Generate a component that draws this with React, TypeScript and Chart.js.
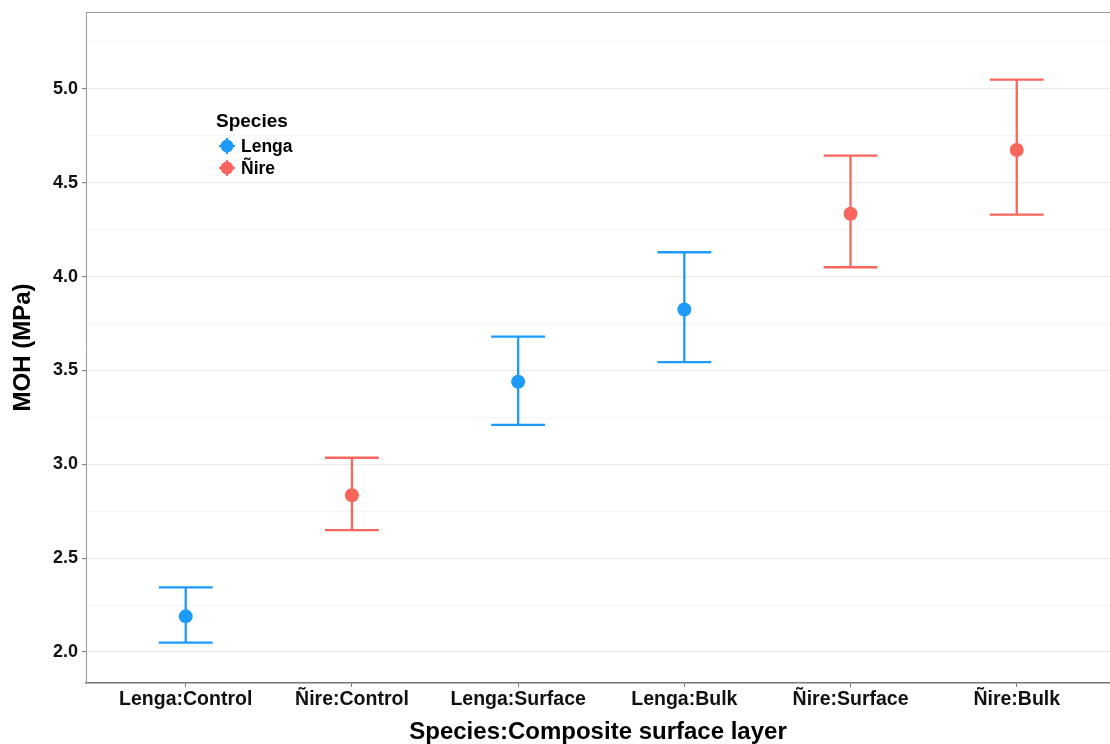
import React, { useEffect, useRef } from "react";
import { Chart, registerables } from "chart.js";

Chart.register(...registerables);

const categories = ["Lenga:Control", "Ñire:Control", "Lenga:Surface", "Lenga:Bulk", "Ñire:Surface", "Ñire:Bulk"];
const groupOf = ["Lenga", "Ñire", "Lenga", "Lenga", "Ñire", "Ñire"];
const means = [2.19, 2.835, 3.44, 3.825, 4.335, 4.675];
const lowers = [2.05, 2.65, 3.21, 3.545, 4.05, 4.33];
const uppers = [2.345, 3.035, 3.68, 4.13, 4.645, 5.05];
const speciesNames = ["Lenga", "Ñire"];
const speciesColors = ["#1E9BF8", "#F8665E"];
const yTickValues = [2.0, 2.25, 2.5, 2.75, 3.0, 3.25, 3.5, 3.75, 4.0, 4.25, 4.5, 4.75, 5.0, 5.25];

const FONT = "'Liberation Sans', Arial, Helvetica, sans-serif";

const isMajor = (v: number) => Math.abs(v * 2 - Math.round(v * 2)) < 1e-6;

const zeroPadding = (s: any) => {
  s.paddingLeft = 0;
  s.paddingRight = 0;
  s.paddingTop = 0;
  s.paddingBottom = 0;
};

const errorBarPlugin = {
  id: "errorBars",
  beforeDatasetsDraw(chart: any) {
    const { ctx, scales } = chart;
    const xs = scales.x;
    const ys = scales.y;
    ctx.save();
    chart.data.datasets.forEach((ds: any) => {
      ds.data.forEach((p: any) => {
        const px = xs.getPixelForValue(p.x);
        const pLo = ys.getPixelForValue(p.lo);
        const pHi = ys.getPixelForValue(p.hi);
        const capHalf = xs.getPixelForValue(p.x + 0.162) - px;
        ctx.strokeStyle = ds.backgroundColor;
        ctx.lineWidth = 2.3;
        ctx.beginPath();
        ctx.moveTo(px, pLo);
        ctx.lineTo(px, pHi);
        ctx.moveTo(px - capHalf, pHi);
        ctx.lineTo(px + capHalf, pHi);
        ctx.moveTo(px - capHalf, pLo);
        ctx.lineTo(px + capHalf, pLo);
        ctx.stroke();
      });
    });
    ctx.restore();
  },
};

const frameAndLegendPlugin = {
  id: "frameLegend",
  afterDraw(chart: any) {
    const { ctx, chartArea } = chart;
    ctx.save();
    ctx.strokeStyle = "#9a9a9a";
    ctx.lineWidth = 1;
    ctx.beginPath();
    ctx.moveTo(chartArea.left, chartArea.top + 0.5);
    ctx.lineTo(chartArea.right, chartArea.top + 0.5);
    ctx.stroke();

    // legend
    const lx = chartArea.left + 130;
    const ly = chartArea.top + 110;
    ctx.fillStyle = "#000";
    ctx.textBaseline = "middle";
    ctx.textAlign = "left";
    ctx.font = `bold 19px ${FONT}`;
    ctx.fillText("Species", lx, ly);
    speciesNames.forEach((name, i) => {
      const cy = ly + 24 + i * 22;
      const cx = lx + 11;
      ctx.strokeStyle = speciesColors[i];
      ctx.fillStyle = speciesColors[i];
      ctx.lineWidth = 2;
      ctx.beginPath();
      ctx.moveTo(cx - 8, cy);
      ctx.lineTo(cx + 8, cy);
      ctx.moveTo(cx, cy - 8);
      ctx.lineTo(cx, cy + 8);
      ctx.stroke();
      ctx.beginPath();
      ctx.arc(cx, cy, 6.5, 0, Math.PI * 2);
      ctx.fill();
      ctx.fillStyle = "#000";
      ctx.font = `bold 17.5px ${FONT}`;
      ctx.fillText(name, lx + 25, cy + 1);
    });
    ctx.restore();
  },
};

export default function App() {
  const ref = useRef<HTMLCanvasElement | null>(null);

  useEffect(() => {
    document.body.style.margin = "0";
    document.body.style.overflow = "hidden";
    const canvas = ref.current;
    if (!canvas) return;
    const datasets = speciesNames.map((sp, si) => ({
      label: sp,
      data: categories
        .map((c, i) => ({ x: i + 1, y: means[i], lo: lowers[i], hi: uppers[i], g: groupOf[i] }))
        .filter((d) => d.g === sp),
      backgroundColor: speciesColors[si],
      borderColor: speciesColors[si],
      borderWidth: 0,
      pointRadius: 7,
      pointHoverRadius: 7,
      showLine: false,
      clip: false,
    }));

    const chart = new Chart(canvas, {
      type: "scatter",
      data: { datasets },
      plugins: [errorBarPlugin, frameAndLegendPlugin],
      options: {
        responsive: false,
        animation: false,
        events: [],
        layout: { autoPadding: false, padding: { top: 12, left: 0, right: 0, bottom: 0 } },
        plugins: { legend: { display: false }, tooltip: { enabled: false } },
        scales: {
          x: {
            type: "linear",
            min: 0.4,
            max: 6.561,
            afterFit: (s: any) => {
              s.height = 61;
              zeroPadding(s);
            },
            afterBuildTicks: (s: any) => {
              s.ticks = categories.map((_, i) => ({ value: i + 1 }));
            },
            ticks: {
              callback: (v: any) => categories[Math.round(Number(v)) - 1] ?? "",
              font: { family: FONT, size: 19.5, weight: "bold" },
              color: "#111",
              padding: 1,
              maxRotation: 0,
              autoSkip: false,
            },
            grid: {
              drawOnChartArea: false,
              drawTicks: true,
              tickLength: 4,
              tickColor: "#777",
              tickWidth: 1,
            },
            border: { display: true, color: "#777", width: 1.5 },
            title: {
              display: true,
              text: "Species:Composite surface layer",
              font: { family: FONT, size: 24, weight: "bold", lineHeight: 1.0 },
              color: "#000",
              padding: { top: 0, bottom: 0 },
            },
          },
          y: {
            type: "linear",
            min: 1.835,
            max: 5.41,
            afterFit: (s: any) => {
              s.width = 86;
              zeroPadding(s);
            },
            afterBuildTicks: (s: any) => {
              s.ticks = yTickValues.map((v) => ({ value: v }));
            },
            ticks: {
              callback: (v: any) => (isMajor(Number(v)) ? Number(v).toFixed(1) : ""),
              font: { family: FONT, size: 18, weight: "bold" },
              color: "#111",
              padding: 4,
              autoSkip: false,
            },
            grid: {
              color: (c: any) => (isMajor(c.tick.value) ? "#EBEBEB" : "#F5F5F5"),
              lineWidth: 1.2,
              tickLength: 4,
              tickColor: (c: any) => (c.tick && isMajor(c.tick.value) ? "#888" : "rgba(0,0,0,0)"),
            },
            border: { display: true, color: "#9a9a9a", width: 1 },
            title: {
              display: true,
              text: "MOH (MPa)",
              font: { family: FONT, size: 24, weight: "bold", lineHeight: 1.1 },
              color: "#000",
              padding: { top: 10, bottom: 0 },
            },
          },
        },
      },
    } as any);
    return () => chart.destroy();
  }, []);

  return (
    <div style={{ position: "absolute", left: 0, top: 0, width: 1110, height: 744, background: "#fff" }}>
      <canvas ref={ref} width={1110} height={744} />
    </div>
  );
}
